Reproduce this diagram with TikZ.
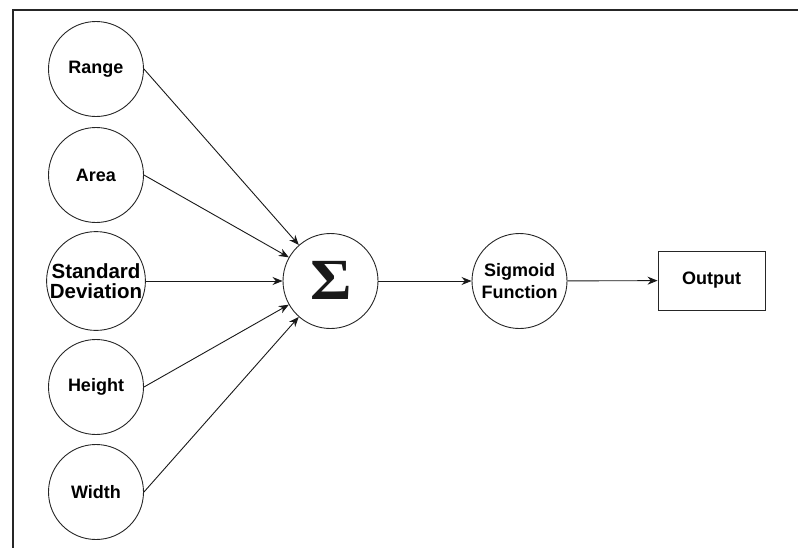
\documentclass[tikz,border=0pt]{standalone}
\usepackage{fontspec}
\setmainfont{Liberation Sans}
\newfontfamily\sigmafont{Liberation Serif}
\usetikzlibrary{arrows.meta}
\begin{document}
\begin{tikzpicture}[x=1pt,y=-1pt,
  font=\fontsize{18}{22.5}\selectfont\bfseries,
  neuron/.style={circle,draw=black!85,line width=0.9pt,minimum size=95pt,inner sep=0pt,align=center},
  outbox/.style={rectangle,draw=black!85,line width=0.9pt,minimum width=107pt,minimum height=59pt,inner sep=0pt},
  link/.style={draw=black!90,line width=0.9pt,-{Stealth[length=10pt,width=8pt]}}]
  \useasboundingbox (0,0) rectangle (798,547);
  % page frame (open at the bottom and right)
  \draw[black!85,line width=2.4pt] (802,10) -- (13,10) -- (13,552);
  % input features
  \node[neuron] (range) at (96,69) {Range};
  \node[neuron] (area) at (96,175) {Area};
  \node[neuron,font=\fontsize{20.5}{20.5}\selectfont\bfseries] (sd) at (96,281) {Standard\\Deviation};
  \node[neuron] (height) at (96,387) {Height};
  \node[neuron] (width) at (96,492) {Width};
  % summation, activation, output
  \node[neuron] (sum) at (330.5,281) {};
  \node[font=\sigmafont\fontsize{52}{52}\selectfont\bfseries,text=black!90,inner sep=0pt] (sym) at (331,280) {\scalebox{1.22}[1.12]{Σ}};
  \node[neuron] (sig) at (519.5,281) {Sigmoid\\[-1pt]Function};
  \node[outbox] (out) at (711.5,280.5) {Output};
  % connectors
  \foreach \n in {range,area,sd,height,width}
    \draw[link] (\n.east) -- (sum);
  \draw[link] (sum) -- (sig);
  \draw[link] (sig) -- (out);
\end{tikzpicture}
\end{document}
